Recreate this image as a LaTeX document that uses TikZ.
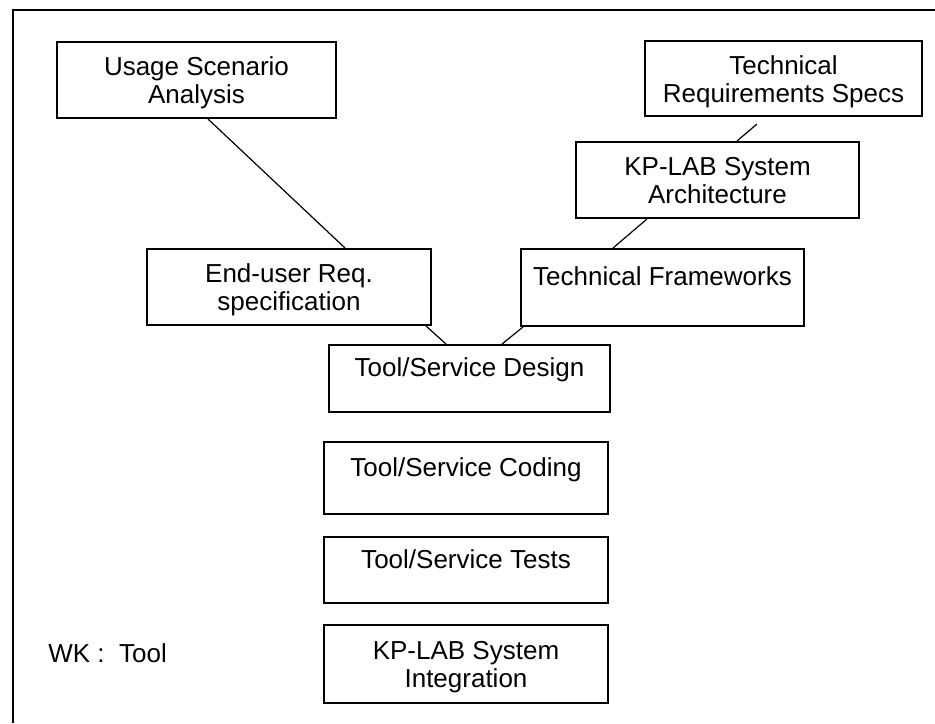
\documentclass[tikz,border=0pt]{standalone}
\usepackage{fontspec}
\setmainfont{Liberation Sans}
\usepackage{tikz}

\begin{document}
\begin{tikzpicture}[x=0.5pt, y=-0.5pt]
        % Define styles
        \tikzset{
            box/.style={rectangle, draw, line width=1pt, inner sep=0pt, align=center,
                        minimum width=141pt, font=\fontsize{13pt}{14pt}\selectfont},
            onerow/.style={text height=9.5pt, text depth=11.5pt},
            tworow/.style={text height=23.5pt, text depth=0pt},
            link/.style={line width=0.6pt}
        }
        \useasboundingbox (0,0) rectangle (935,723);

        % Frame
        \draw[line width=1pt] (935,10) -- (13,10) -- (13,723);

        % Nodes
        \node[box, tworow, minimum width=139.5pt, minimum height=38pt] (usage_node) at (196.5,80) {Usage Scenario\\Analysis};
        \node[box, tworow, minimum width=138.5pt, minimum height=37.5pt] (techreq_node) at (783.5,78.5) {Technical\\Requirements Specs};
        \node[box, tworow, minimum width=141.5pt, minimum height=38pt] (arch_node) at (717.5,180) {KP-LAB System\\Architecture};
        \node[box, tworow, minimum width=142pt, minimum height=38pt] (enduser_node) at (289,287) {End-user Req.\\specification};
        \node[box, onerow, minimum width=141.5pt, minimum height=38.5pt] (frameworks_node) at (662.5,287.5) {Technical Frameworks};
        \node[box, onerow, minimum width=140.5pt, minimum height=33.5pt] (design_node) at (469.5,378.5) {Tool/Service Design};
        \node[box, onerow, minimum width=142pt, minimum height=36pt] (coding_node) at (466,478) {Tool/Service Coding};
        \node[box, onerow, minimum width=142pt, minimum height=33pt] (tests_node) at (466,570) {Tool/Service Tests};
        \node[box, tworow, minimum width=142pt, minimum height=39pt] (integration_node) at (466,664) {KP-LAB System\\Integration};
        \node[anchor=west, inner sep=0pt, font=\fontsize{13pt}{14pt}\selectfont] (wk_node) at (48,653) {WK :~ Tool};

        % Lines
        \draw[link] ([xshift=5.75pt]usage_node.south) -- ([xshift=28pt]enduser_node.north);
        \draw[link] ([xshift=-13.25pt, yshift=-3.5pt]techreq_node.south) -- ([xshift=9.75pt]arch_node.north);
        \draw[link] ([xshift=-35.25pt]arch_node.south) -- ([xshift=-24.75pt]frameworks_node.north);
        \draw[link] ([xshift=-3pt]enduser_node.south east) -- ([xshift=-11.75pt]design_node.north);
        \draw[link] ([xshift=1.5pt]frameworks_node.south west) -- ([xshift=16.25pt]design_node.north);
    \end{tikzpicture}
\end{document}
